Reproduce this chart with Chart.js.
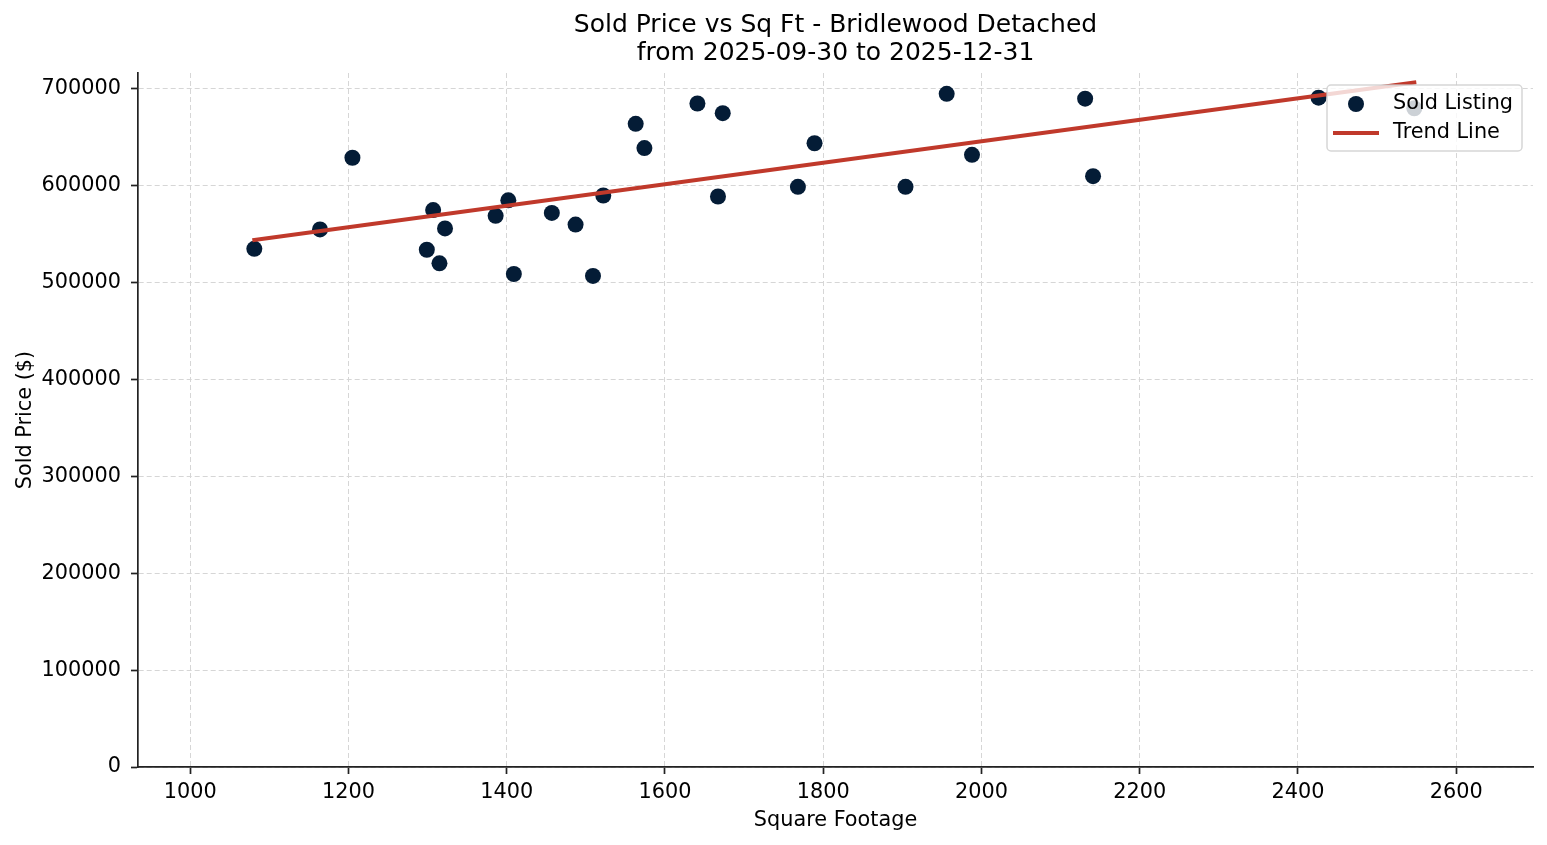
<!DOCTYPE html>
<html>
<head>
<meta charset="utf-8">
<title>Sold Price vs Sq Ft - Bridlewood Detached</title>
<script src="https://cdn.jsdelivr.net/npm/chart.js@4.4.1/dist/chart.umd.min.js"></script>
<style>
  html, body { margin: 0; padding: 0; background: #fff; }
  #wrap { position: relative; width: 1547px; height: 845px; }
</style>
</head>
<body>
<div id="wrap"><canvas id="chart"></canvas></div>
<script>
'use strict';

// ── Data ──────────────────────────────────────────────
const sqft = [
  1081, 1164, 1205, 1299, 1307, 1315, 1322, 1386, 1402, 1409,
  1457, 1487, 1509, 1522, 1563, 1574, 1641, 1667, 1673, 1768,
  1789, 1904, 1956, 1988, 2131, 2141, 2426, 2547,
];
const soldPrice = [
  535000, 555000, 629000, 534000, 575000, 520000, 556000, 569000, 585000, 509000,
  572000, 560000, 507000, 590000, 664000, 639000, 685000, 589000, 675000, 599000,
  644000, 599000, 695000, 632000, 690000, 610000, 691000, 680000,
];
const trendX = [1081, 2547];
const trendY = [544000, 706600];

const xTicks = [1000, 1200, 1400, 1600, 1800, 2000, 2200, 2400, 2600];
const yTicks = [0, 100000, 200000, 300000, 400000, 500000, 600000, 700000];

const titleLines  = ['Sold Price vs Sq Ft - Bridlewood Detached', 'from 2025-09-30 to 2025-12-31'];
const legendItems = ['Sold Listing', 'Trend Line'];

const xRange = { min: 934, max: 2697 };
const yRange = { min: 0, max: 716500 };

// ── Styling ───────────────────────────────────────────
const FONT       = "'DejaVu Sans', sans-serif";
const TICK_SIZE  = 20.8;
const DOT_COLOR  = '#041c36';
const LINE_COLOR = '#c0392b';
const AXIS_COLOR = '#222222';
const GRID_COLOR = '#d6d6d6';

// title centred over the plot area (not the whole canvas), like matplotlib
const axesTitle = {
  id: 'axesTitle',
  afterDraw(chart) {
    const { ctx, chartArea } = chart;
    const cx = (chartArea.left + chartArea.right) / 2;
    ctx.save();
    ctx.fillStyle = '#000';
    ctx.font = `25px ${FONT}`;
    ctx.textAlign = 'center';
    ctx.textBaseline = 'middle';
    titleLines.forEach((line, i) => ctx.fillText(line, cx, 25 + i * 28));
    ctx.restore();
  },
};

// legend drawn inside the plot, on top of the marks (semi-transparent)
const insideLegend = {
  id: 'insideLegend',
  afterDraw(chart) {
    const { ctx, chartArea } = chart;
    const w = 195, h = 66;
    const x = chartArea.right - 206, y = chartArea.top + 12;

    ctx.save();
    ctx.beginPath();
    ctx.roundRect(x, y, w, h, 4);
    ctx.fillStyle = 'rgba(255,255,255,0.8)';
    ctx.fill();
    ctx.strokeStyle = 'rgba(204,204,204,0.8)';
    ctx.lineWidth = 1.5;
    ctx.stroke();

    const row1 = y + 19, row2 = y + 48;
    ctx.fillStyle = DOT_COLOR;
    ctx.beginPath();
    ctx.arc(x + 29, row1, 8, 0, Math.PI * 2);
    ctx.fill();

    ctx.strokeStyle = LINE_COLOR;
    ctx.lineWidth = 4;
    ctx.beginPath();
    ctx.moveTo(x + 6, row2);
    ctx.lineTo(x + 52, row2);
    ctx.stroke();

    ctx.fillStyle = '#000';
    ctx.font = `${TICK_SIZE}px ${FONT}`;
    ctx.textBaseline = 'middle';
    ctx.textAlign = 'left';
    ctx.fillText(legendItems[0], x + 66, row1);
    ctx.fillText(legendItems[1], x + 66, row2);
    ctx.restore();
  },
};

const fixedTicks = (list) => (scale) => {
  scale.ticks = list.map(value => ({ value }));
};

new Chart(document.getElementById('chart'), {
  type: 'scatter',
  data: {
    datasets: [
      {
        type: 'line',
        label: legendItems[1],
        data: trendX.map((x, i) => ({ x, y: trendY[i] })),
        borderColor: LINE_COLOR,
        borderWidth: 4,
        pointRadius: 0,
        borderCapStyle: 'square',
        fill: false,
        order: 0,
      },
      {
        label: legendItems[0],
        data: sqft.map((x, i) => ({ x, y: soldPrice[i] })),
        backgroundColor: DOT_COLOR,
        borderColor: DOT_COLOR,
        borderWidth: 0,
        pointRadius: 8,
        pointHoverRadius: 8,
        order: 1,
      },
    ],
  },
  options: {
    responsive: true,
    maintainAspectRatio: false,
    animation: false,
    events: [],
    layout: { padding: { left: 0, right: 14, top: 73, bottom: 0 } },
    plugins: {
      legend: { display: false },
      tooltip: { enabled: false },
      title: { display: false },
    },
    scales: {
      x: {
        type: 'linear',
        min: xRange.min,
        max: xRange.max,
        afterBuildTicks: fixedTicks(xTicks),
        afterFit: (s) => { s.height = 78; },
        ticks: {
          autoSkip: false,
          color: '#000',
          font: { family: FONT, size: TICK_SIZE },
          padding: 6,
          maxRotation: 0,
          callback: (v) => String(v),
        },
        grid: {
          color: GRID_COLOR,
          lineWidth: 1,
          tickLength: 7,
          tickColor: AXIS_COLOR,
          tickWidth: 1.7,
        },
        border: { color: AXIS_COLOR, width: 1.7, dash: [5, 3] },
        title: {
          display: true,
          text: 'Square Footage',
          color: '#000',
          font: { family: FONT, size: TICK_SIZE, lineHeight: 1.2 },
          padding: { top: 0, bottom: 12 },
        },
      },
      y: {
        type: 'linear',
        min: yRange.min,
        max: yRange.max,
        afterBuildTicks: fixedTicks(yTicks),
        afterFit: (s) => { s.width = 138; },
        ticks: {
          autoSkip: false,
          color: '#000',
          font: { family: FONT, size: TICK_SIZE },
          padding: 10,
          callback: (v) => String(v),
        },
        grid: {
          color: GRID_COLOR,
          lineWidth: 1,
          tickLength: 7,
          tickColor: AXIS_COLOR,
          tickWidth: 1.7,
        },
        border: { color: AXIS_COLOR, width: 1.7, dash: [5, 3] },
        title: {
          display: true,
          text: 'Sold Price ($)',
          color: '#000',
          font: { family: FONT, size: TICK_SIZE, lineHeight: 1.2 },
          padding: { top: 13, bottom: 0 },
        },
      },
    },
  },
  plugins: [axesTitle, insideLegend],
});
</script>
</body>
</html>
